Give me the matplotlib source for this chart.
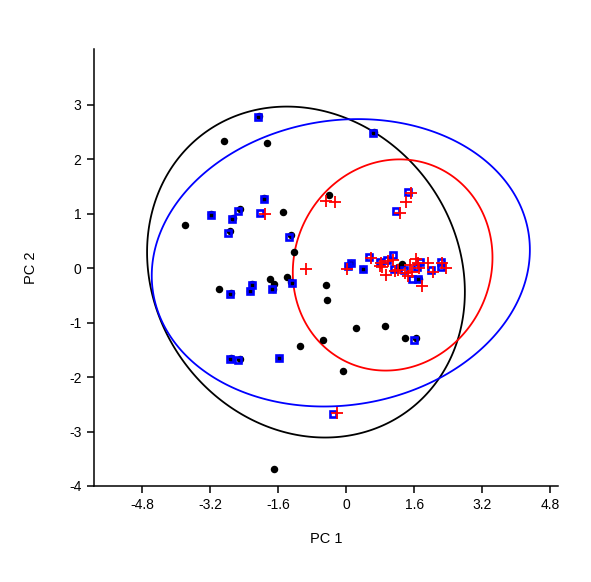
import numpy as np
import matplotlib
matplotlib.use("Agg")
import matplotlib.pyplot as plt
from matplotlib.patches import Polygon

plt.rcParams['font.family'] = ['Liberation Sans', 'DejaVu Sans']

# Group 1: black circles
black_x = [-2.87, -1.86, -2.06, -1.93, -3.79, -3.18, -2.67, -2.51, -2.74, -1.50,
           -1.31, -1.24, -2.99, -2.71, -2.22, -2.27, -1.79, -1.70, -1.73, -1.39,
           -1.31, -2.51, -2.72, -1.58, -1.09, -0.54, -0.47, -0.46, 0.22, 0.91,
           1.38, 1.64, -0.07, -1.71, 0.65, -0.41, 0.12, 0.05, 0.40, 1.22,
           1.30, 1.71]
black_y = [2.34, 2.31, 2.79, 1.29, 0.80, 1.00, 0.93, 1.08, 0.68, 1.03,
           0.61, 0.30, -0.39, -0.45, -0.29, -0.42, -0.20, -0.29, -0.39, -0.16,
           -0.25, -1.66, -1.65, -1.64, -1.42, -1.32, -0.30, -0.58, -1.10, -1.07,
           -1.29, -1.29, -1.88, -3.68, 2.51, 1.34, 0.10, 0.04, -0.01, 0.03,
           0.07, -0.19]

# Group 2: blue open squares
blue_x = [-2.07, -1.93, -3.19, -2.70, -2.55, -2.79, -2.03, -1.35, -2.74, -2.22,
          -2.27, -1.75, -1.29, -2.74, -2.54, -1.58, -0.31, 0.63, 1.46, 1.18,
          0.04, 0.10, 0.39, 0.54, 0.79, 0.95, 1.10, 1.12, 1.36, 1.66,
          1.74, 1.55, 1.68, 1.99, 2.22, 2.22, 1.59]
blue_y = [2.78, 1.28, 0.97, 0.90, 1.06, 0.65, 1.02, 0.58, -0.47, -0.30,
          -0.42, -0.39, -0.27, -1.67, -1.69, -1.64, -2.67, 2.49, 1.40, 1.06,
          0.04, 0.10, -0.01, 0.21, 0.12, 0.15, 0.24, -0.01, -0.04, 0.02,
          0.12, -0.20, -0.19, -0.03, 0.12, 0.02, -1.32]

# Group 3: red pluses
red_x = [-1.92, -0.96, -0.23, -0.48, -0.27, 1.53, 1.40, 1.26, 0.02, 0.58,
         0.85, 0.79, 0.93, 1.22, 1.49, 1.55, 1.65, 1.69, 1.92, 2.04,
         2.34, 1.77, 1.38, 1.45, 1.09, 0.82, 0.99, 1.15, 1.70, 2.26]
red_y = [1.00, -0.01, -2.66, 1.24, 1.21, 1.39, 1.21, 1.02, -0.02, 0.18,
         0.02, 0.05, -0.12, -0.04, 0.06, -0.06, 0.17, 0.10, 0.10, -0.07,
         0.01, -0.32, -0.08, -0.15, 0.16, 0.10, 0.13, -0.05, 0.00, 0.10]

# Confidence ellipses: centre, semi-extent in x and y, tilt (sin of phase)
ell_colors = ['black', 'blue', 'red']
ell_cx = [-0.95, -0.13, 1.09]
ell_cy = [-0.07, 0.10, 0.06]
ell_ax = [3.74, 4.45, 2.35]
ell_ay = [3.04, 2.64, 1.94]
ell_tilt = [-0.12, 0.09, 0.07]

x_ticks = [-4.8, -3.2, -1.6, 0, 1.6, 3.2, 4.8]
x_ticklabels = ['-4.8', '-3.2', '-1.6', '0', '1.6', '3.2', '4.8']
y_ticks = [-4, -3, -2, -1, 0, 1, 2, 3]
y_ticklabels = ['-4', '-3', '-2', '-1', '0', '1', '2', '3']

fig = plt.figure(figsize=(5.91, 5.82), dpi=100)
ax = fig.add_axes([0.159, 0.165, 0.785, 0.751])

t = np.linspace(0, 2 * np.pi, 400, endpoint=False)
for c, cx, cy, a, b, s in zip(ell_colors, ell_cx, ell_cy, ell_ax, ell_ay, ell_tilt):
    phi = np.arcsin(s)
    pts = np.column_stack([cx + a * np.cos(t), cy + b * np.sin(t + phi)])
    ax.add_patch(Polygon(pts, closed=True, fill=False, edgecolor=c, lw=1.3, zorder=2))

ax.plot(black_x, black_y, 'o', color='black', ms=5.4, zorder=3, markeredgewidth=0)
ax.plot(blue_x, blue_y, 's', mfc='none', mec='blue', ms=5.0, mew=1.9, zorder=4)
ax.plot(red_x, red_y, '+', color='red', ms=8.5, mew=1.3, zorder=5)

ax.set_xlim(-5.94, 4.98)
ax.set_ylim(-4.0, 4.03)
ax.set_xticks(x_ticks)
ax.set_xticklabels(x_ticklabels)
ax.set_yticks(y_ticks)
ax.set_yticklabels(y_ticklabels)

for sp in ['top', 'right']:
    ax.spines[sp].set_visible(False)
for sp in ['left', 'bottom']:
    ax.spines[sp].set_linewidth(1.1)
ax.tick_params(direction='out', length=5, width=1.1, labelsize=10, pad=4)
ax.set_xlabel('PC 1', fontsize=10.5, labelpad=14)
ax.set_ylabel('PC 2', fontsize=10.5, labelpad=22)

fig.savefig('out.png', dpi=100)
